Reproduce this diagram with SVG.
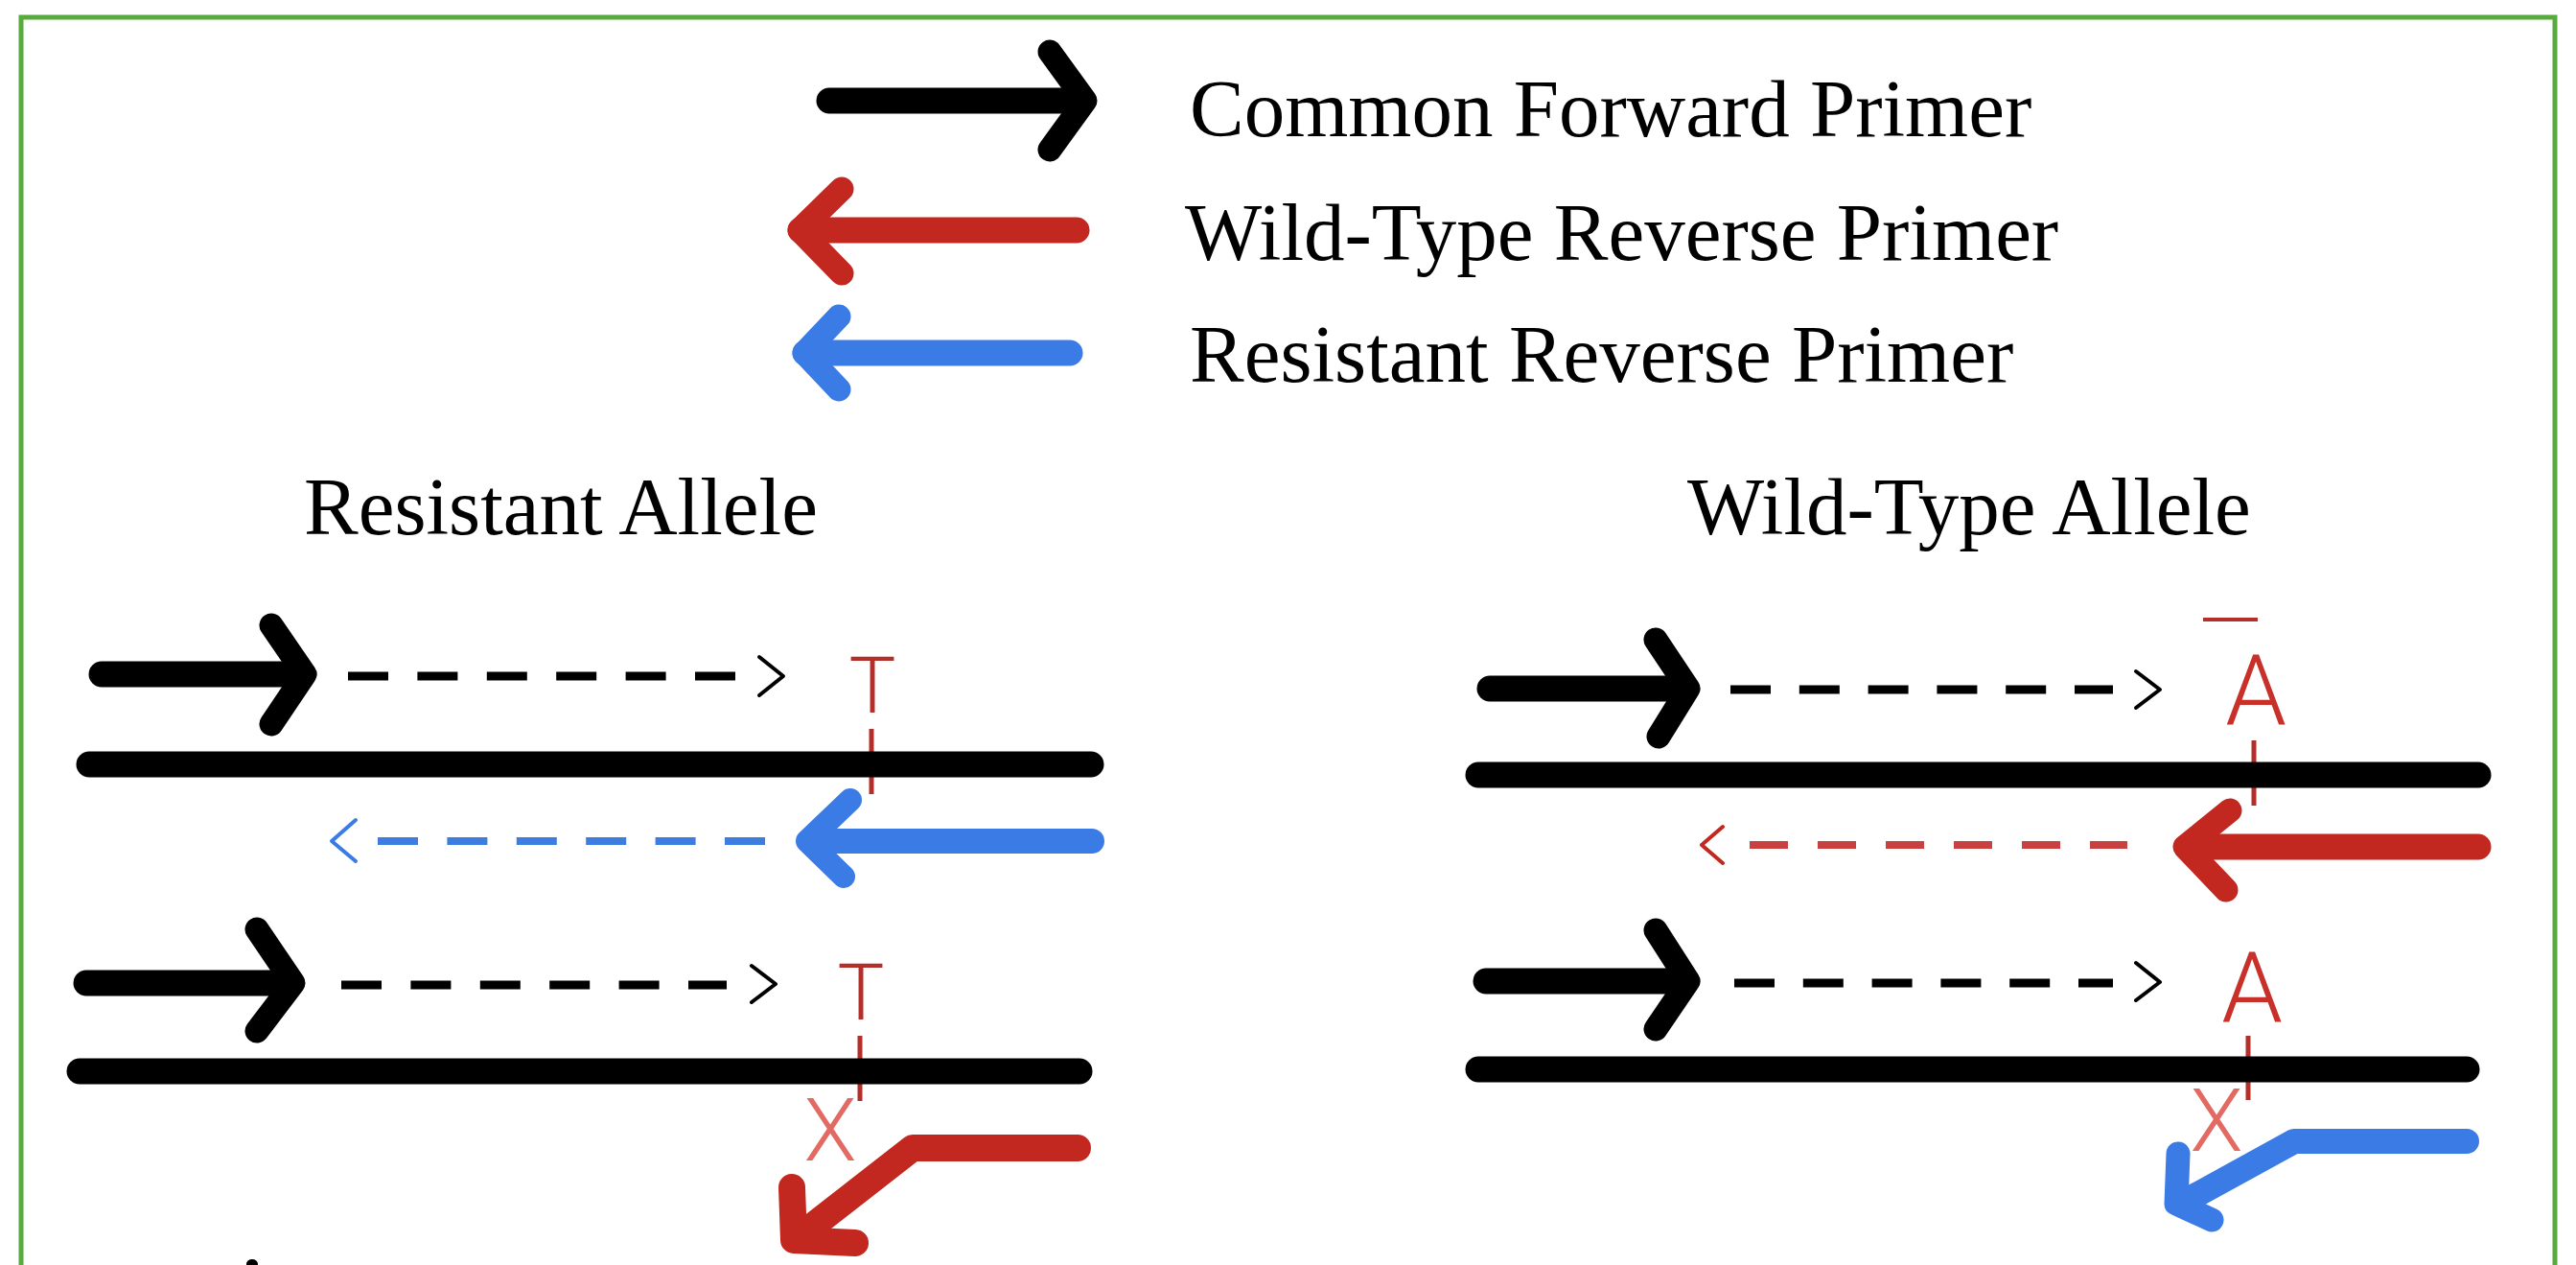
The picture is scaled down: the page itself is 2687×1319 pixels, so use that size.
<svg xmlns="http://www.w3.org/2000/svg" width="2687" height="1319" viewBox="0 0 2687 1319">
<style>
.ln{fill:none;stroke-linecap:round;stroke-linejoin:round}
.k{stroke:#000}
.r{stroke:#c2281f}
.b{stroke:#3a7be6}
.sh{stroke-width:27}
.hd{stroke-width:25}
.st{stroke:#000;stroke-width:27}
.ds{fill:none;stroke-width:9;stroke-linecap:butt;stroke-dasharray:42 30.4}
.ch{stroke-width:4}
.mk{fill:none;stroke:#b3302a;stroke-width:5}
.lbl{font-family:"Liberation Serif","Times New Roman",serif;font-size:85px;fill:#000}
.base{font-family:Roboto,"Liberation Sans",sans-serif;font-weight:300;text-anchor:middle}
</style>
<rect x="0" y="0" width="2687" height="1319" fill="#fff"/>
<rect id="frame" x="22" y="18" width="2643" height="1340" fill="none" stroke="#55ab3c" stroke-width="5"/>

<g id="legend">
  <g id="legend-forward">
    <path class="ln k sh" d="M865 105H1128"/>
    <polyline class="ln k hd" points="1095,54 1132,105 1095,156"/>
    <text class="lbl" x="1241" y="142">Common Forward Primer</text>
  </g>
  <g id="legend-wt-reverse">
    <path class="ln r sh" d="M1123 240H835"/>
    <polyline class="ln r hd" points="878,197 834,240 878,285"/>
    <text class="lbl" x="1236" y="271">Wild-Type Reverse Primer</text>
  </g>
  <g id="legend-res-reverse">
    <path class="ln b sh" d="M1116 368H840"/>
    <polyline class="ln b hd" points="875,330 839,368 875,406"/>
    <text class="lbl" x="1241" y="398">Resistant Reverse Primer</text>
  </g>
</g>

<g id="title-resistant"><text class="lbl" x="317" y="557">Resistant Allele</text></g>
<g id="title-wildtype"><text class="lbl" x="1760" y="557">Wild-Type Allele</text></g>

<g id="resistant-panel">
  <g id="res-row1">
    <path class="ln k sh" d="M106 703H316"/>
    <polyline class="ln k hd" points="283,652 318,703 283,755"/>
    <line class="ds k" x1="363" y1="705" x2="767" y2="705"/>
    <polyline class="ln k ch" points="792,685 817,705 792,725"/>
    <text class="base" x="910" y="743" font-size="82" fill="#b3302a">T</text>
    <line class="mk" x1="909" y1="760" x2="909" y2="828"/>
    <path class="ln st" d="M93 797H1138"/>
    <path class="ln b" style="stroke-width:26" d="M1139 877H845"/>
    <polyline class="ln b" style="stroke-width:24" points="887,834 842,877 880,914"/>
    <line class="ds b" x1="394" y1="877" x2="800" y2="877" style="stroke-width:8;stroke:#3d7de0"/>
    <polyline class="ln b ch" points="371,855 346,877 371,898"/>
  </g>
  <g id="res-row2">
    <path class="ln k sh" d="M90 1025H303"/>
    <polyline class="ln k hd" points="268,969 306,1025 268,1075"/>
    <line class="ds k" x1="356" y1="1027" x2="758" y2="1027"/>
    <polyline class="ln k ch" points="784,1007 809,1026 784,1045"/>
    <text class="base" x="898" y="1063" font-size="82" fill="#b3302a">T</text>
    <line class="mk" x1="897" y1="1080" x2="897" y2="1148"/>
    <path class="ln st" d="M83 1117H1126"/>
    <text class="base" x="866" y="1210" font-size="90" fill="#e26a62">X</text>
    <path class="ln r" style="stroke-width:28" d="M1124 1197H952L834 1289"/>
    <polyline class="ln r" style="stroke-width:28" points="826,1238 828,1293 892,1296"/>
  </g>
  <ellipse cx="263" cy="1318" rx="6" ry="5" fill="#000"/>
</g>

<g id="wildtype-panel">
  <g id="wt-row1">
    <line x1="2298" y1="646" x2="2355" y2="646" stroke="#b3302a" stroke-width="4"/>
    <path class="ln k sh" d="M1554 718H1758"/>
    <polyline class="ln k hd" points="1727,667 1761,718 1730,768"/>
    <line class="ds k" x1="1805" y1="719" x2="2204" y2="719" style="stroke-dasharray:42 29.8"/>
    <polyline class="ln k ch" points="2228,700 2253,719 2228,738"/>
    <text class="base" x="2353" y="755" font-size="102" fill="#c8302a">A</text>
    <line class="mk" x1="2351" y1="772" x2="2351" y2="840"/>
    <path class="ln st" d="M1542 808H2585"/>
    <path class="ln r sh" d="M2585 883H2282"/>
    <polyline class="ln r hd" points="2326,845 2279,883 2322,928"/>
    <line class="ds r" x1="1825" y1="881" x2="2219" y2="881" style="stroke-width:8;stroke:#c84040;stroke-dasharray:40 31"/>
    <polyline class="ln r ch" points="1797,862 1775,881 1797,900"/>
  </g>
  <g id="wt-row2">
    <path class="ln k sh" d="M1550 1023H1758"/>
    <polyline class="ln k hd" points="1727,970 1761,1023 1727,1073"/>
    <line class="ds k" x1="1809" y1="1025" x2="2204" y2="1025" style="stroke-dasharray:42 29.8"/>
    <polyline class="ln k ch" points="2228,1004 2253,1024 2228,1043"/>
    <text class="base" x="2349" y="1065" font-size="102" fill="#c8302a">A</text>
    <line class="mk" x1="2345" y1="1080" x2="2345" y2="1147"/>
    <path class="ln st" d="M1542 1115H2573"/>
    <text class="base" x="2312" y="1200" font-size="90" fill="#e26a62">X</text>
    <path class="ln b" style="stroke-width:26" d="M2573 1190H2393L2280 1252"/>
    <polyline class="ln b" style="stroke-width:25" points="2272,1203 2270,1255 2307,1272"/>
  </g>
</g>
</svg>
